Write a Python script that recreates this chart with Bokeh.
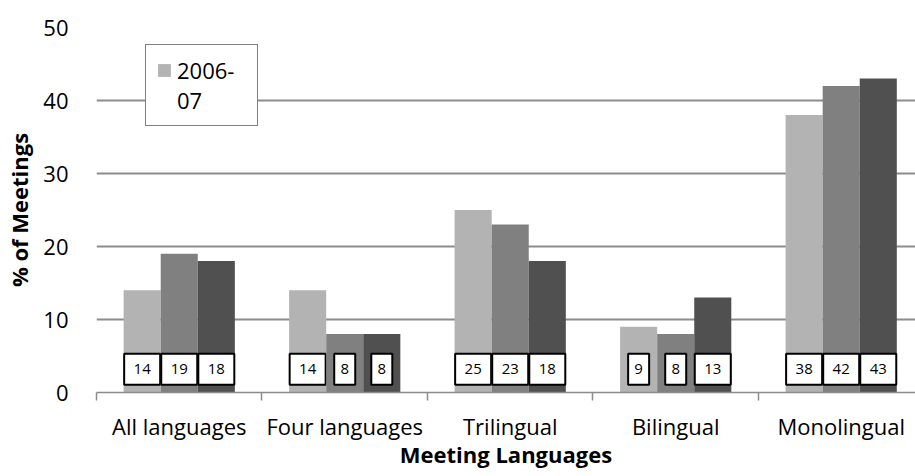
from bokeh.plotting import figure
from bokeh.models import ColumnDataSource, FixedTicker, Legend, LegendItem, Range1d
from bokeh.core.properties import value
from bokeh.embed import file_html
from bokeh.resources import INLINE

categories = ["All languages", "Four languages", "Trilingual", "Bilingual", "Monolingual"]
series_names = ["2006-07", "2007-08", "2008-09"]
s2006 = [14, 14, 25, 9, 38]
s2007 = [19, 8, 23, 8, 42]
s2008 = [18, 8, 18, 13, 43]
y_ticks = [0, 10, 20, 30, 40, 50]
legend_lines = ["2006-", "07"]

colors = ["#b3b3b3", "#808080", "#505050"]
FONT = "Open Sans"
BAR_W = 0.224
LABEL_Y = 3.2

p = figure(width=915, height=476, output_backend="svg", toolbar_location=None,
           x_range=Range1d(0, 4.949), y_range=Range1d(0, 50),
           min_border_left=96, min_border_right=0, min_border_top=27, min_border_bottom=84)
p.outline_line_color = None
p.background_fill_color = "white"
p.border_fill_color = "white"

centers = [i + 0.5 for i in range(len(categories))]
renderers = []
for k, vals in enumerate([s2006, s2007, s2008]):
    xs = [c + (k - 1) * BAR_W for c in centers]
    lbl = [str(v) for v in vals]
    box_w = [6 + 15 * len(t) for t in lbl]
    src = ColumnDataSource(dict(x=xs, top=vals, lbl=lbl, bw=box_w, ly=[LABEL_Y] * len(vals)))
    r = p.vbar(x="x", top="top", width=BAR_W, source=src, fill_color=colors[k], line_color=None)
    renderers.append(r)
    p.rect(x="x", y="ly", width="bw", height=31, width_units="screen", height_units="screen",
           source=src, fill_color="white", line_color="black", line_width=2)
    p.text(x="x", y="ly", text="lbl", source=src, text_align="center", text_baseline="middle",
           text_font=value(FONT), text_font_size="15px", text_color="black")

# invisible renderer for the wrapped second line of the legend label
blank = p.vbar(x=[], top=[], width=BAR_W, fill_alpha=0, line_alpha=0)

# axes
p.xaxis.ticker = FixedTicker(ticks=centers, minor_ticks=list(range(len(categories) + 1)))
p.xaxis.major_label_overrides = {c: n for c, n in zip(centers, categories)}
p.xaxis.major_tick_out = 0
p.xaxis.major_tick_in = 0
p.xaxis.minor_tick_out = 8
p.xaxis.minor_tick_in = 0
p.xaxis.minor_tick_line_color = "#8c8c8c"
p.xaxis.minor_tick_line_width = 1.5
p.xaxis.axis_line_color = "#8c8c8c"
p.xaxis.axis_line_width = 1.5
p.xaxis.major_label_standoff = 10
p.xaxis.major_label_text_font = FONT
p.xaxis.major_label_text_font_size = "22px"
p.xaxis.major_label_text_color = "black"
p.xaxis.axis_label = "Meeting Languages"
p.xaxis.axis_label_text_font = FONT
p.xaxis.axis_label_text_font_style = "bold"
p.xaxis.axis_label_text_font_size = "22px"
p.xaxis.axis_label_text_color = "black"
p.xaxis.axis_label_standoff = -5

p.yaxis.ticker = FixedTicker(ticks=y_ticks)
p.yaxis.axis_line_color = None
p.yaxis.major_tick_line_color = None
p.yaxis.minor_tick_line_color = None
p.yaxis.major_label_standoff = 22
p.yaxis.major_label_text_font = FONT
p.yaxis.major_label_text_font_size = "22px"
p.yaxis.major_label_text_color = "black"
p.yaxis.axis_label = "% of Meetings"
p.yaxis.axis_label_text_font = FONT
p.yaxis.axis_label_text_font_style = "bold"
p.yaxis.axis_label_text_font_size = "22px"
p.yaxis.axis_label_text_color = "black"
p.yaxis.axis_label_standoff = 6

p.xgrid.grid_line_color = None
p.ygrid.ticker = FixedTicker(ticks=y_ticks[1:])
p.ygrid.grid_line_color = "#8c8c8c"
p.ygrid.grid_line_width = 2
p.ygrid.level = "underlay"

legend = Legend(items=[LegendItem(label=legend_lines[0], renderers=[renderers[0]]),
                       LegendItem(label=legend_lines[1], renderers=[blank])],
                location=(49, 266), border_line_color="black", border_line_width=1.5,
                background_fill_color="white", background_fill_alpha=1,
                label_text_font=FONT, label_text_font_size="22px", label_text_color="black",
                glyph_width=16, glyph_height=16, padding=10, margin=0, label_standoff=5,
                spacing=0, label_width=70)
p.add_layout(legend)

open("out.html", "w").write(file_html(p, INLINE))
